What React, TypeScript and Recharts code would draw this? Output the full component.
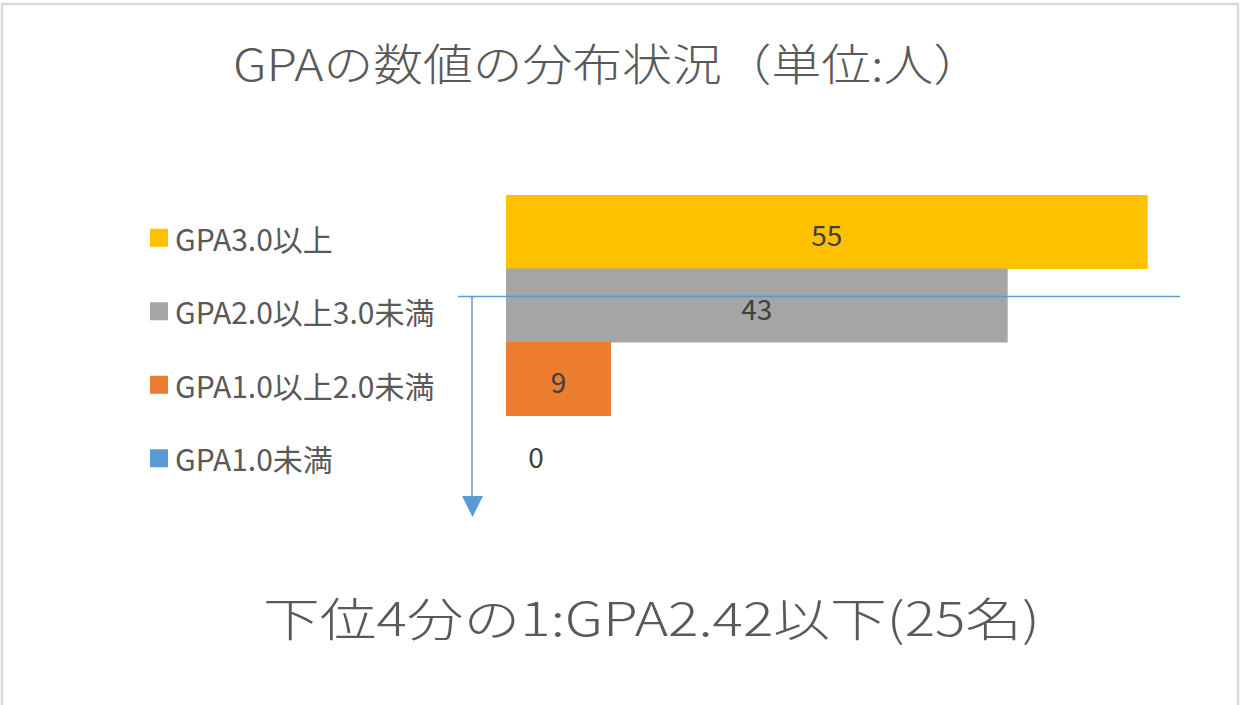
import { Bar, BarChart, Cell, LabelList, XAxis, YAxis } from "recharts";

const CATEGORIES = ["GPA3.0以上", "GPA2.0以上3.0未満", "GPA1.0以上2.0未満", "GPA1.0未満"];
const COUNTS = [55, 43, 9, 0];
const COLORS = ["#ffc000", "#a5a5a5", "#ed7d31", "#5b9bd5"];

const TITLE = "GPAの数値の分布状況（単位:人）";
const NOTE = "下位4分の1:GPA2.42以下(25名)";

const FONT = '"Noto Sans CJK JP", "Noto Sans", sans-serif';
const TEXT = "#595959";
const LABEL = "#404040";

const data = CATEGORIES.map((name, i) => ({ name, value: COUNTS[i] }));

// the y axis doubles as the legend; a zero bar gets its value drawn here too
function LegendTick(props: any) {
  const { y, payload, index } = props;
  const cy = y + 6;
  return (
    <g>
      <rect x={150} y={cy - 9} width={18} height={18} fill={COLORS[index]} />
      <text
        x={175}
        y={cy}
        dominantBaseline="central"
        fill={TEXT}
        fontFamily={FONT}
        fontSize={30}
      >
        {payload.value}
      </text>
      {data[index].value === 0 && (
        <text
          x={536}
          y={cy - 2}
          textAnchor="middle"
          dominantBaseline="central"
          fill={LABEL}
          fontFamily={FONT}
          fontSize={28}
        >
          {data[index].value}
        </text>
      )}
    </g>
  );
}

function ValueLabel(props: any) {
  const { x, y, width, height, value } = props;
  if (!value) return null;
  return (
    <text
      x={x + width / 2}
      y={y + height / 2 + 2}
      textAnchor="middle"
      dominantBaseline="central"
      fill={LABEL}
      fontFamily={FONT}
      fontSize={28}
    >
      {value}
    </text>
  );
}

export default function App() {
  return (
    <div style={{ position: "relative", width: 1241, height: 705, background: "#fff" }}>
      <style>{"body{margin:0}"}</style>
      <BarChart
        width={1241}
        height={705}
        data={data}
        layout="vertical"
        margin={{ top: 195, right: 35, bottom: 216, left: 0 }}
        barCategoryGap={0}
      >
        <XAxis type="number" domain={[0, 60]} hide />
        <YAxis
          type="category"
          dataKey="name"
          width={506}
          axisLine={false}
          tickLine={false}
          tick={<LegendTick />}
        />
        <Bar dataKey="value" isAnimationActive={false}>
          {data.map((_, i) => (
            <Cell key={`cell-${i}`} fill={COLORS[i]} />
          ))}
          <LabelList dataKey="value" content={<ValueLabel />} />
        </Bar>
      </BarChart>
      <svg
        width={1241}
        height={705}
        style={{ position: "absolute", left: 0, top: 0, pointerEvents: "none" }}
      >
        <rect x={2} y={4} width={1236} height={710} fill="none" stroke="#d9d9d9" strokeWidth={2.5} />
        <text
          x={233}
          y={81}
          fill={TEXT}
          fontFamily={FONT}
          fontWeight={300}
          fontSize={44}
          textLength={750}
          lengthAdjust="spacingAndGlyphs"
        >
          {TITLE}
        </text>
        <line x1={458} y1={296.5} x2={1180} y2={296.5} stroke="#5b9bd5" strokeWidth={1.5} />
        <line x1={472} y1={296.5} x2={472} y2={500} stroke="#5b9bd5" strokeWidth={1.5} />
        <polygon points="462,496 483,496 472.5,517" fill="#5b9bd5" />
        <text
          x={263}
          y={636}
          fill={TEXT}
          fontFamily={FONT}
          fontWeight={300}
          fontSize={46}
          textLength={777}
          lengthAdjust="spacingAndGlyphs"
        >
          {NOTE}
        </text>
      </svg>
    </div>
  );
}
